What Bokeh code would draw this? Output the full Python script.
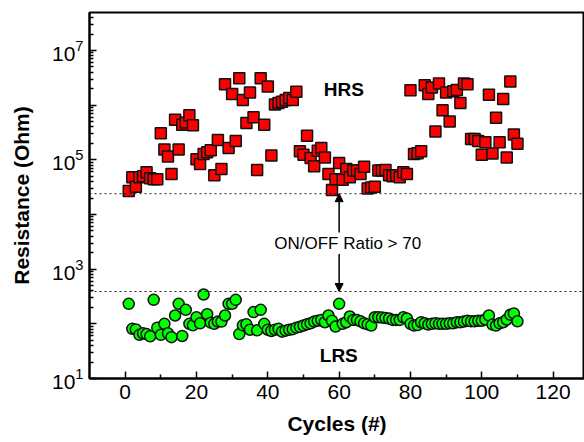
from bokeh.plotting import figure
from bokeh.models import (Range1d, FixedTicker, Span, Label, Arrow, NormalHead,
                          ColumnDataSource)
from bokeh.embed import file_html
from bokeh.resources import INLINE

# ---- data ----
cycles = list(range(1, 111))
hrs = [2.7e4, 4.8e4, 3.2e4, 4.8e4, 5.0e4, 5.9e4, 4.6e4, 4.4e4, 4.4e4, 3.05e5,
       1.55e5, 1.15e5, 5.5e4, 5.4e5, 1.55e5, 4.4e5, 4.8e5, 6.5e5, 4.3e5, 1.02e5,
       8.4e4, 1.28e5, 1.37e5, 1.5e5, 5.2e4, 2.3e5, 6.8e4, 2.4e6, 1.64e5, 1.6e6,
       2.2e5, 3.1e6, 1.24e6, 4.7e5, 1.7e6, 6.0e5, 6.5e4, 3.1e6, 4.4e5, 2.2e6,
       1.2e5, 1.03e6, 1.1e6, 1.15e6, 1.24e6, 1.35e6, 1.24e6, 1.76e6, 1.43e5, 1.24e5,
       2.75e5, 1.08e5, 7.6e4, 1.47e5, 1.64e5, 1.1e5, 5.5e4, 2.8e4, 4.4e4, 8.7e4,
       4.3e4, 6.8e4, 4.8e4, 6.4e4, 6.4e4, 5.5e4, 7.5e4, 3.0e4, 3.1e4, 3.2e4,
       6.4e4, 6.4e4, 6.5e4, 5.2e4, 5.0e4, 5.2e4, 4.8e4, 5.9e4, 5.5e4, 1.87e6,
       1.28e5, 1.32e5, 1.43e5, 2.3e6, 1.6e6, 2.1e6, 3.3e5, 2.5e6, 8.1e5, 1.7e6,
       5.0e5, 1.8e6, 1.9e6, 1.1e6, 2.5e6, 2.4e6, 2.4e5, 2.4e5, 2.2e5, 1.24e5,
       2.1e5, 1.55e6, 1.3e5, 5.9e5, 2.1e5, 1.3e6, 1.1e5, 2.7e6, 2.9e5, 1.96e5]
lrs = [232, 81, 79, 63, 67, 65, 59, 275, 85, 63,
       100, 67, 57, 142, 232, 60, 180, 100, 94, 132,
       102, 344, 150, 105, 100, 110, 110, 142, 232, 232,
       275, 65, 94, 98, 78, 164, 76, 180, 100, 78,
       74, 78, 81, 72, 75, 78, 80, 85, 88, 93,
       98, 102, 110, 114, 118, 107, 142, 114, 89, 232,
       100, 107, 136, 118, 118, 111, 102, 98, 93, 132,
       132, 130, 128, 125, 118, 118, 118, 132, 125, 100,
       93, 95, 107, 102, 97, 100, 102, 100, 100, 100,
       102, 102, 107, 107, 110, 114, 111, 111, 114, 114,
       120, 142, 97, 93, 102, 107, 120, 147, 155, 111]
hrs_threshold = 2.4e4
lrs_threshold = 390
x_ticks = [0, 20, 40, 60, 80, 100, 120]
x_minor = [10, 30, 50, 70, 90, 110, 130]
y_ticks = [1e1, 1e2, 1e3, 1e4, 1e5, 1e6, 1e7]
y_minor = [m * 10 ** e for e in range(1, 8) for m in range(2, 10)]
hidden_labels = {100: "", 10000: "", 1000000: ""}

FONT = "Liberation Sans"

p = figure(width=584, height=442, y_axis_type="log",
           x_range=Range1d(-10, 128.8), y_range=Range1d(10, 4.95e7),
           output_backend="svg", toolbar_location=None,
           min_border_left=89, min_border_right=0, min_border_top=12,
           min_border_bottom=64)
p.grid.visible = False
p.outline_line_color = "black"
p.outline_line_width = 2

# axes
for ax in (p.xaxis[0], p.yaxis[0]):
    ax.axis_line_width = 2
    ax.major_tick_in = 7
    ax.major_tick_out = 0
    ax.minor_tick_in = 4
    ax.minor_tick_out = 0
    ax.major_tick_line_width = 1.5
    ax.minor_tick_line_width = 1.5
    ax.major_label_text_font = FONT
    ax.major_label_text_font_size = "21px"
    ax.major_label_text_color = "black"
    ax.axis_label_text_font = FONT
    ax.axis_label_text_font_style = "bold"
    ax.axis_label_text_font_size = "21px"
    ax.axis_label_text_color = "black"

p.xaxis.ticker = FixedTicker(ticks=x_ticks, minor_ticks=x_minor)
p.xaxis.axis_label = "Cycles (#)"
p.xaxis.major_label_standoff = 6
p.xaxis.axis_label_standoff = 10

p.yaxis.ticker = FixedTicker(ticks=y_ticks, minor_ticks=y_minor)
p.yaxis.major_label_overrides = hidden_labels
p.yaxis.axis_label = "Resistance (Ohm)"
p.yaxis.major_label_standoff = 6
p.yaxis.axis_label_standoff = 16

# thresholds
p.add_layout(Span(location=hrs_threshold, dimension="width", line_color="#222222",
                  line_width=1, line_dash="2 3"))
p.add_layout(Span(location=lrs_threshold, dimension="width", line_color="#222222",
                  line_width=1, line_dash="2 3"))

src = ColumnDataSource(dict(x=cycles, hrs=hrs, lrs=lrs))
p.scatter("x", "hrs", source=src, marker="square", size=11, fill_color="#FF0000",
          line_color="#111111", line_width=1.5)
p.scatter("x", "lrs", source=src, marker="circle", size=11, fill_color="#00FF00",
          line_color="#111111", line_width=1.5)

# annotations
p.add_layout(Label(x=61.3, y=1.9e6, text="HRS", text_font=FONT, text_font_style="bold",
                   text_font_size="19px", text_align="center", text_baseline="middle",
                   text_color="black"))
p.add_layout(Label(x=59.9, y=26, text="LRS", text_font=FONT, text_font_style="bold",
                   text_font_size="19px", text_align="center", text_baseline="middle",
                   text_color="black"))
p.add_layout(Label(x=62.4, y=2900, text="ON/OFF Ratio > 70", text_font=FONT,
                   text_font_size="17px", text_align="center", text_baseline="middle",
                   text_color="black"))
p.add_layout(Arrow(end=NormalHead(size=8, fill_color="black", line_color="black"),
                   x_start=60, y_start=4700, x_end=60, y_end=hrs_threshold,
                   line_width=1.5, line_color="black"))
p.add_layout(Arrow(end=NormalHead(size=8, fill_color="black", line_color="black"),
                   x_start=60, y_start=1900, x_end=60, y_end=lrs_threshold,
                   line_width=1.5, line_color="black"))

open("out.html", "w").write(file_html(p, INLINE))
